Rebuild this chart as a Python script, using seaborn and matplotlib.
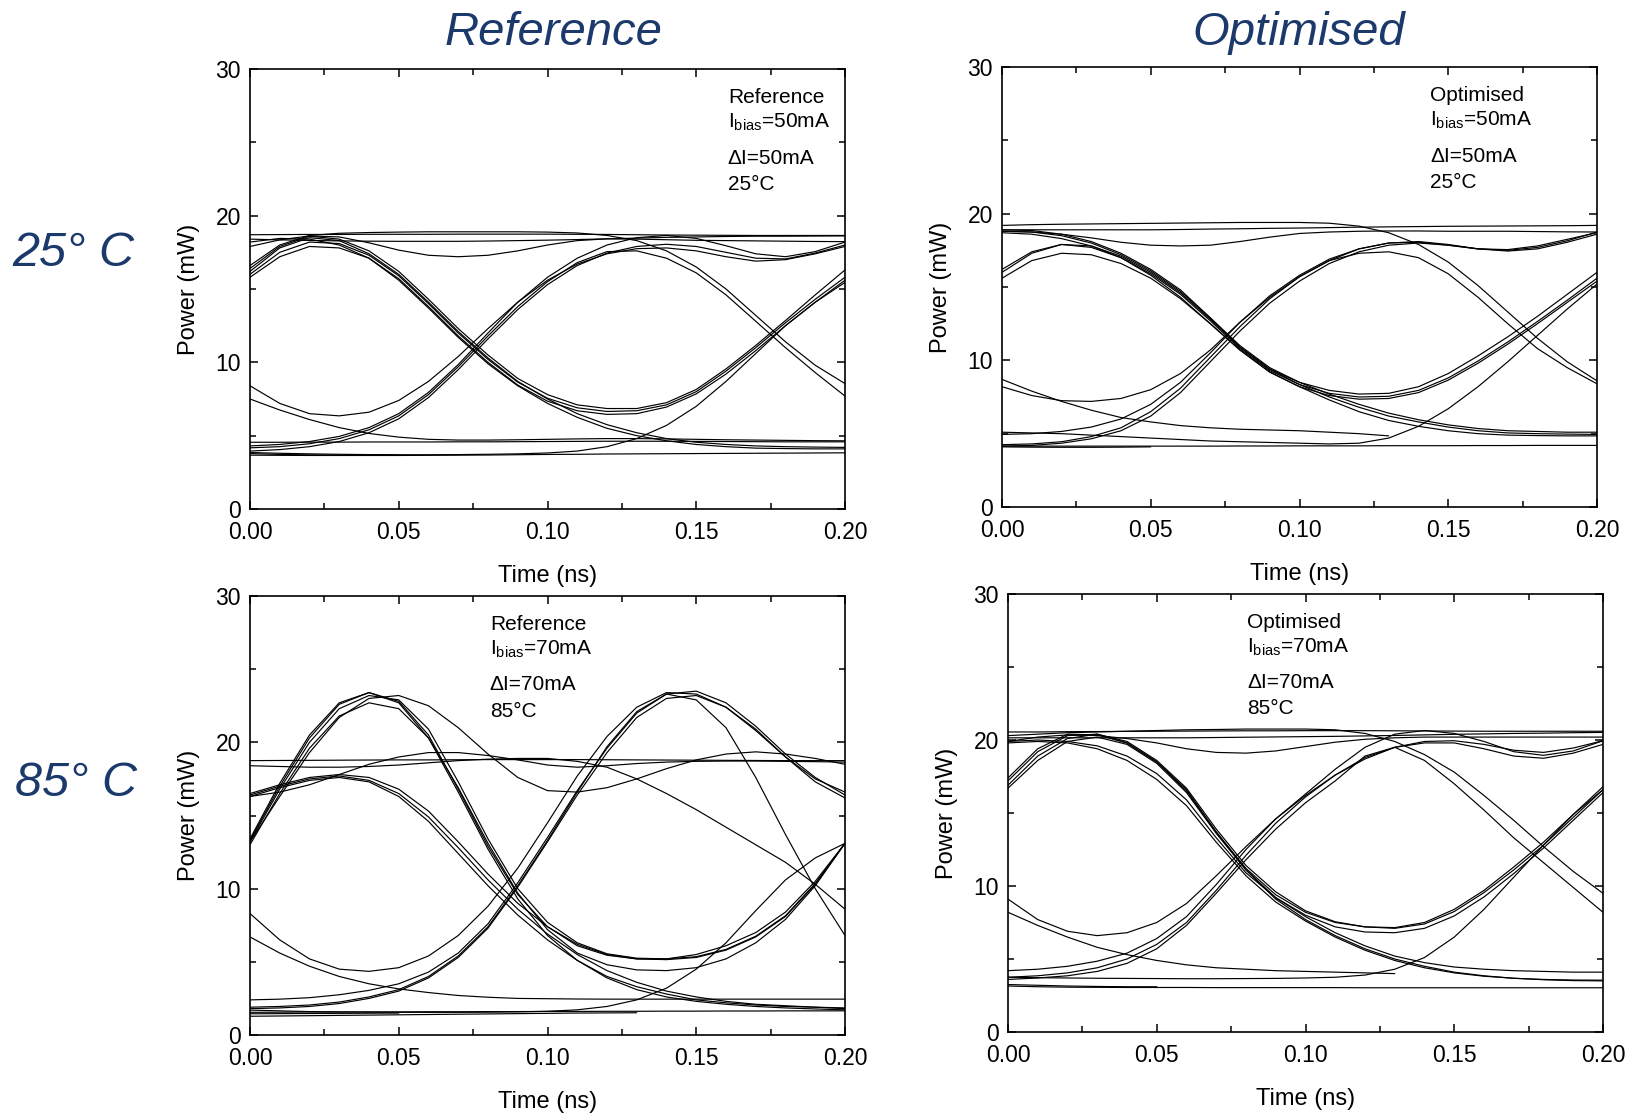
import matplotlib
matplotlib.use("Agg")
import matplotlib.pyplot as plt
from matplotlib.ticker import MultipleLocator, FormatStrFormatter
import pandas as pd
import seaborn as sns

# Sampling instants of every eye trace (ns)
TIME_NS = [0.00, 0.01, 0.02, 0.03, 0.04, 0.05, 0.06, 0.07, 0.08, 0.09, 0.10,
           0.11, 0.12, 0.13, 0.14, 0.15, 0.16, 0.17, 0.18, 0.19, 0.20]

# Reference laser, 25 C, Ibias = 50 mA, dI = 50 mA  (power in mW)
REF_25C = [
    [18.70, 18.71, 18.72, 18.72, 18.73, 18.73, 18.73, 18.74, 18.74, 18.74, 18.74, 18.73, 18.72, 18.70, 18.68, 18.67, 18.66, 18.65, 18.65, 18.65, 18.65],
    [18.40, 18.35, 18.31, 18.28, 18.26, 18.25, 18.25, 18.25, 18.27, 18.30, 18.33, 18.37, 18.42, 18.47, 18.52, 18.55, 18.58, 18.60, 18.60, 18.61, 18.62],
    [17.90, 18.35, 18.62, 18.55, 18.15, 17.65, 17.30, 17.20, 17.30, 17.60, 18.00, 18.30, 18.42, 18.40, 18.36, 18.32, 18.30, 18.28, 18.26, 18.24, 18.23],
    [16.60, 18.00, 18.65, 18.80, 18.85, 18.88, 18.90, 18.90, 18.90, 18.90, 18.88, 18.82, 18.65, 18.30, 17.60, 16.50, 15.00, 13.20, 11.40, 9.80, 8.55],
    [16.40, 17.90, 18.60, 18.40, 17.60, 16.20, 14.30, 12.30, 10.50, 8.90, 7.80, 7.10, 6.85, 6.85, 7.25, 8.15, 9.55, 11.15, 12.85, 14.60, 16.30],
    [16.00, 17.50, 18.20, 18.10, 17.30, 15.90, 14.00, 12.00, 10.20, 8.65, 7.55, 6.90, 6.65, 6.70, 7.10, 8.00, 9.40, 11.00, 12.70, 14.30, 15.80],
    [15.80, 17.20, 17.90, 17.80, 17.10, 15.70, 13.80, 11.80, 10.00, 8.45, 7.35, 6.70, 6.45, 6.50, 6.95, 7.85, 9.20, 10.80, 12.50, 14.10, 15.60],
    [16.20, 17.80, 18.50, 18.30, 17.40, 16.00, 14.10, 12.10, 10.30, 8.70, 7.50, 6.50, 5.75, 5.20, 4.80, 4.55, 4.40, 4.30, 4.25, 4.22, 4.20],
    [18.20, 18.45, 18.40, 18.00, 17.10, 15.60, 13.70, 11.70, 9.90, 8.40, 7.20, 6.25, 5.50, 5.00, 4.65, 4.40, 4.25, 4.15, 4.12, 4.10, 4.10],
    [8.40, 7.20, 6.50, 6.35, 6.60, 7.40, 8.70, 10.40, 12.30, 14.10, 15.60, 16.70, 17.40, 17.75, 17.80, 17.60, 17.20, 16.90, 17.00, 17.40, 17.90],
    [4.30, 4.40, 4.60, 4.95, 5.55, 6.50, 7.95, 9.85, 12.00, 14.10, 15.80, 17.10, 18.00, 18.50, 18.65, 18.45, 17.95, 17.40, 17.20, 17.55, 18.20],
    [4.17, 4.25, 4.45, 4.80, 5.40, 6.35, 7.80, 9.70, 11.80, 13.80, 15.50, 16.80, 17.55, 17.60, 17.10, 16.10, 14.60, 12.80, 11.00, 9.30, 7.70],
    [3.95, 4.05, 4.25, 4.60, 5.20, 6.15, 7.60, 9.50, 11.60, 13.60, 15.30, 16.60, 17.45, 17.90, 18.05, 17.90, 17.50, 17.10, 17.05, 17.45, 18.00],
    [3.85, 3.80, 3.76, 3.73, 3.71, 3.70, 3.70, 3.71, 3.73, 3.76, 3.82, 3.95, 4.25, 4.80, 5.70, 7.00, 8.70, 10.60, 12.50, 14.10, 15.45],
    [4.55, 4.55, 4.56, 4.56, 4.57, 4.57, 4.57, 4.58, 4.58, 4.59, 4.60, 4.61, 4.62, 4.62, 4.62, 4.61, 4.60, 4.59, 4.58, 4.58, 4.58],
    [7.50, 6.75, 6.10, 5.55, 5.15, 4.90, 4.75, 4.70, 4.70, 4.72, 4.75, 4.78, 4.80, 4.80, 4.78, 4.75, 4.72, 4.70, 4.68, 4.66, 4.65],
    [3.67, 3.66, 3.65, 3.65, 3.65, 3.65, 3.66, 3.67, 3.68, 3.70, 3.72, 3.73, 3.75, 3.76, 3.77, 3.78, 3.79, 3.80, 3.81, 3.82, 3.83],
    [3.78, 3.72, 3.69, 3.67, 3.67, 3.67],
]

# Optimised laser, 25 C, Ibias = 50 mA, dI = 50 mA
OPT_25C = [
    [19.20, 19.25, 19.28, 19.30, 19.32, 19.34, 19.36, 19.38, 19.40, 19.40, 19.40, 19.35, 19.15, 18.70, 17.90, 16.70, 15.10, 13.30, 11.50, 9.90, 8.60],
    [18.90, 18.90, 18.90, 18.90, 18.90, 18.90, 18.92, 18.95, 18.97, 19.00, 19.02, 19.05, 19.08, 19.10, 19.12, 19.14, 19.15, 19.16, 19.17, 19.18, 19.20],
    [18.80, 18.75, 18.60, 18.35, 18.05, 17.85, 17.80, 17.85, 18.10, 18.40, 18.65, 18.75, 18.80, 18.82, 18.82, 18.80, 18.80, 18.80, 18.78, 18.76, 18.75],
    [18.90, 18.85, 18.60, 18.10, 17.30, 16.20, 14.80, 12.90, 10.90, 9.40, 8.50, 7.95, 7.70, 7.75, 8.20, 9.10, 10.30, 11.60, 13.00, 14.50, 16.00],
    [16.20, 17.40, 17.90, 17.70, 17.00, 15.90, 14.50, 12.70, 10.80, 9.30, 8.35, 7.75, 7.50, 7.55, 7.95, 8.80, 9.95, 11.25, 12.65, 14.10, 15.60],
    [15.60, 16.80, 17.30, 17.20, 16.60, 15.60, 14.20, 12.50, 10.70, 9.20, 8.20, 7.60, 7.35, 7.40, 7.80, 8.65, 9.80, 11.10, 12.50, 13.95, 15.40],
    [18.80, 18.75, 18.50, 18.00, 17.20, 16.10, 14.70, 12.90, 11.00, 9.50, 8.50, 7.70, 7.00, 6.40, 5.95, 5.60, 5.35, 5.20, 5.15, 5.10, 5.10],
    [16.00, 17.30, 17.90, 17.80, 17.10, 16.00, 14.60, 12.80, 10.90, 9.40, 8.35, 7.50, 6.80, 6.20, 5.80, 5.45, 5.20, 5.05, 5.00, 4.97, 4.95],
    [18.70, 18.60, 18.30, 17.80, 17.00, 15.80, 14.30, 12.50, 10.70, 9.20, 8.20, 7.30, 6.50, 5.90, 5.50, 5.20, 5.00, 4.90, 4.87, 4.85, 4.85],
    [8.20, 7.60, 7.25, 7.20, 7.40, 8.00, 9.10, 10.70, 12.60, 14.30, 15.70, 16.80, 17.60, 18.00, 18.05, 17.85, 17.60, 17.55, 17.80, 18.25, 18.70],
    [4.95, 5.00, 5.15, 5.45, 6.00, 7.00, 8.50, 10.50, 12.60, 14.40, 15.80, 16.90, 17.60, 18.00, 18.10, 17.90, 17.60, 17.45, 17.60, 18.05, 18.60],
    [4.25, 4.30, 4.45, 4.80, 5.40, 6.50, 8.10, 10.20, 12.30, 14.20, 15.70, 16.80, 17.30, 17.40, 17.00, 15.90, 14.30, 12.50, 10.80, 9.50, 8.40],
    [4.15, 4.20, 4.35, 4.65, 5.20, 6.20, 7.80, 9.90, 12.00, 13.90, 15.40, 16.60, 17.40, 17.85, 18.00, 17.85, 17.60, 17.50, 17.70, 18.15, 18.75],
    [8.70, 7.90, 7.20, 6.60, 6.10, 5.80, 5.55, 5.40, 5.30, 5.25, 5.20, 5.10, 5.00, 4.85],
    [5.10, 5.05, 5.00, 4.90, 4.80, 4.70, 4.60, 4.50, 4.45, 4.40, 4.35, 4.30, 4.35, 4.70, 5.50, 6.70, 8.20, 9.90, 11.70, 13.50, 15.20],
    [4.15, 4.15, 4.15, 4.15, 4.15, 4.15, 4.15, 4.15, 4.16, 4.16, 4.17, 4.17, 4.17, 4.18, 4.18, 4.18, 4.19, 4.19, 4.20, 4.20, 4.20],
    [4.10, 4.08, 4.07, 4.07, 4.08, 4.10],
]

# Reference laser, 85 C, Ibias = 70 mA, dI = 70 mA
REF_85C = [
    [13.30, 17.00, 20.30, 22.60, 23.40, 22.80, 20.50, 16.80, 12.90, 9.60, 7.40, 6.10, 5.45, 5.20, 5.15, 5.30, 5.80, 6.70, 8.10, 10.30, 13.10],
    [13.20, 16.80, 20.00, 22.30, 23.20, 22.90, 20.90, 17.30, 13.40, 10.00, 7.70, 6.30, 5.55, 5.25, 5.20, 5.35, 5.85, 6.75, 8.15, 10.35, 13.10],
    [13.00, 16.50, 19.60, 21.80, 22.70, 22.30, 20.30, 16.90, 13.10, 9.70, 7.20, 5.60, 4.80, 4.45, 4.40, 4.60, 5.20, 6.30, 7.90, 10.20, 13.10],
    [13.40, 17.20, 20.50, 22.70, 23.40, 22.70, 20.30, 16.60, 12.70, 9.30, 6.80, 5.10, 3.90, 3.10, 2.60, 2.30, 2.10, 1.95, 1.85, 1.78, 1.72],
    [13.20, 16.30, 19.30, 21.70, 23.00, 23.20, 22.50, 21.00, 19.20, 17.60, 16.70, 16.60, 16.90, 17.50, 18.20, 18.80, 19.20, 19.35, 19.20, 18.90, 18.50],
    [16.30, 16.60, 17.10, 17.80, 18.50, 19.00, 19.30, 19.30, 19.10, 18.80, 18.45, 18.30, 18.40, 18.55, 18.65, 18.70, 18.72, 18.72, 18.70, 18.68, 18.65],
    [18.40, 18.35, 18.30, 18.30, 18.35, 18.45, 18.60, 18.75, 18.85, 18.90, 18.90, 18.70, 18.30, 17.50, 16.50, 15.40, 14.20, 13.00, 11.80, 10.30, 8.60],
    [18.75, 18.76, 18.77, 18.78, 18.79, 18.80, 18.80, 18.81, 18.82, 18.82, 18.82, 18.82, 18.81, 18.80, 18.79, 18.78, 18.77, 18.76, 18.75, 18.75, 18.75],
    [16.50, 17.10, 17.60, 17.80, 17.60, 16.80, 15.30, 13.20, 11.00, 9.00, 7.40, 6.20, 5.50, 5.20, 5.20, 5.50, 6.10, 7.00, 8.40, 10.50, 13.10],
    [16.40, 17.00, 17.50, 17.70, 17.40, 16.50, 14.90, 12.80, 10.60, 8.60, 6.90, 5.50, 4.40, 3.60, 3.00, 2.60, 2.30, 2.10, 2.00, 1.90, 1.85],
    [16.30, 16.90, 17.40, 17.60, 17.30, 16.30, 14.60, 12.40, 10.20, 8.20, 6.50, 5.10, 4.00, 3.30, 2.80, 2.40, 2.20, 2.05, 1.95, 1.90, 1.80],
    [8.30, 6.50, 5.20, 4.50, 4.35, 4.60, 5.40, 6.80, 8.80, 11.40, 14.50, 17.70, 20.40, 22.40, 23.40, 23.30, 22.40, 20.80, 19.00, 17.50, 16.60],
    [2.40, 2.45, 2.55, 2.75, 3.05, 3.50, 4.30, 5.60, 7.60, 10.40, 13.50, 16.70, 19.60, 22.00, 23.30, 23.50, 22.70, 21.10, 19.20, 17.60, 16.40],
    [1.90, 1.95, 2.05, 2.25, 2.60, 3.10, 4.00, 5.40, 7.40, 10.20, 13.30, 16.60, 19.70, 22.10, 23.30, 22.90, 21.00, 17.60, 13.70, 10.00, 6.80],
    [1.80, 1.85, 1.95, 2.15, 2.50, 3.00, 3.90, 5.30, 7.30, 10.10, 13.20, 16.40, 19.30, 21.70, 23.00, 23.20, 22.40, 20.90, 19.00, 17.30, 16.20],
    [6.70, 5.60, 4.70, 4.00, 3.50, 3.15, 2.90, 2.70, 2.58, 2.50, 2.48, 2.46, 2.45, 2.45, 2.45, 2.45, 2.45, 2.45, 2.45, 2.45, 2.45],
    [1.28, 1.30, 1.32, 1.34, 1.36, 1.38, 1.40, 1.42, 1.44, 1.46, 1.48, 1.50, 1.51, 1.52],
    [1.70, 1.65, 1.60, 1.58, 1.56, 1.55, 1.55, 1.55, 1.56, 1.58, 1.62, 1.72, 1.95, 2.40, 3.20, 4.50, 6.30, 8.50, 10.60, 12.10, 13.10],
    [1.55, 1.56, 1.57, 1.57, 1.58, 1.58, 1.59, 1.59, 1.60, 1.60, 1.61, 1.61, 1.62, 1.62, 1.63, 1.63, 1.64, 1.64, 1.65, 1.65, 1.65],
    [1.45, 1.46, 1.47, 1.48, 1.49, 1.50],
]

# Optimised laser, 85 C, Ibias = 70 mA, dI = 70 mA
OPT_85C = [
    [20.55, 20.55, 20.57, 20.58, 20.59, 20.60, 20.61, 20.62, 20.63, 20.63, 20.64, 20.64, 20.64, 20.63, 20.62, 20.61, 20.60, 20.60, 20.60, 20.60, 20.60],
    [20.15, 20.15, 20.15, 20.15, 20.15, 20.15, 20.15, 20.17, 20.19, 20.21, 20.23, 20.25, 20.28, 20.31, 20.35, 20.39, 20.42, 20.45, 20.47, 20.50, 20.52],
    [19.90, 20.20, 20.35, 20.30, 20.10, 19.80, 19.40, 19.15, 19.10, 19.25, 19.55, 19.85, 20.05, 20.15, 20.20, 20.20, 20.20, 20.20, 20.20, 20.20, 20.20],
    [20.30, 20.40, 20.50, 20.55, 20.60, 20.65, 20.70, 20.72, 20.75, 20.75, 20.75, 20.70, 20.45, 19.90, 19.00, 17.80, 16.20, 14.50, 12.70, 11.00, 9.50],
    [3.60, 3.70, 3.85, 4.15, 4.70, 5.70, 7.30, 9.50, 11.80, 13.90, 15.70, 17.20, 18.90, 19.50, 18.60, 17.00, 15.20, 13.30, 11.60, 9.90, 8.20],
    [17.40, 19.40, 20.40, 20.35, 19.80, 18.50, 16.60, 13.70, 11.20, 9.40, 8.20, 7.50, 7.20, 7.15, 7.50, 8.40, 9.70, 11.30, 13.00, 14.90, 16.80],
    [16.90, 18.90, 20.10, 20.40, 19.90, 18.60, 16.70, 13.90, 11.40, 9.60, 8.30, 7.55, 7.20, 7.10, 7.40, 8.25, 9.55, 11.10, 12.80, 14.70, 16.60],
    [19.90, 20.00, 19.90, 19.60, 18.90, 17.70, 15.90, 13.30, 10.90, 9.20, 8.00, 7.20, 6.85, 6.80, 7.10, 7.95, 9.25, 10.85, 12.60, 14.50, 16.40],
    [17.20, 19.20, 20.30, 20.40, 19.80, 18.50, 16.50, 13.70, 11.10, 9.20, 7.90, 6.80, 5.90, 5.20, 4.75, 4.45, 4.30, 4.20, 4.15, 4.10, 4.10],
    [19.80, 19.90, 19.80, 19.40, 18.60, 17.30, 15.50, 13.00, 10.70, 8.90, 7.60, 6.50, 5.60, 4.90, 4.40, 4.05, 3.82, 3.68, 3.60, 3.56, 3.55],
    [16.70, 18.60, 19.90, 20.20, 19.70, 18.40, 16.40, 13.60, 11.10, 9.10, 7.70, 6.60, 5.70, 5.00, 4.50, 4.10, 3.85, 3.68, 3.58, 3.52, 3.50],
    [9.10, 7.70, 6.90, 6.60, 6.80, 7.50, 8.80, 10.70, 12.70, 14.60, 16.20, 17.60, 18.70, 19.50, 19.90, 19.95, 19.70, 19.30, 19.15, 19.45, 19.95],
    [4.20, 4.30, 4.50, 4.85, 5.40, 6.40, 7.90, 10.10, 12.50, 14.60, 16.30, 18.00, 19.50, 20.40, 20.65, 20.45, 19.90, 19.20, 18.95, 19.25, 19.95],
    [3.75, 3.85, 4.05, 4.40, 5.00, 6.00, 7.50, 9.70, 12.10, 14.30, 16.10, 17.60, 18.80, 19.50, 19.80, 19.80, 19.40, 18.90, 18.75, 19.10, 19.70],
    [8.20, 7.30, 6.50, 5.80, 5.30, 4.90, 4.60, 4.40, 4.30, 4.20, 4.15, 4.10, 4.05, 4.00],
    [3.75, 3.72, 3.70, 3.68, 3.67, 3.66, 3.65, 3.65, 3.66, 3.67, 3.70, 3.75, 3.90, 4.30, 5.10, 6.50, 8.40, 10.60, 12.80, 14.90, 16.60],
    [3.15, 3.10, 3.07, 3.06, 3.05, 3.05, 3.05, 3.04, 3.04, 3.04, 3.04, 3.04, 3.03, 3.03, 3.03, 3.03, 3.03, 3.03, 3.03, 3.03, 3.03],
    [3.25, 3.20, 3.15, 3.12, 3.10, 3.10],
]

X_TICKS = [0.00, 0.05, 0.10, 0.15, 0.20]
Y_TICKS = [0, 10, 20, 30]
COLUMN_TITLES = ["Reference", "Optimised"]
ROW_TITLES = ["25° C", "85° C"]

NAVY = "#1b3a6b"

sns.set_style("ticks", {"axes.edgecolor": "black", "xtick.color": "black",
                        "ytick.color": "black", "text.color": "black",
                        "axes.labelcolor": "black"})
plt.rcParams["font.family"] = ["Liberation Sans", "DejaVu Sans"]
plt.rcParams["mathtext.fontset"] = "custom"
plt.rcParams["mathtext.rm"] = "Liberation Sans"
plt.rcParams["mathtext.it"] = "Liberation Sans:italic"


def to_long(traces):
    rows = []
    for k, trace in enumerate(traces):
        for t, p in zip(TIME_NS, trace):
            rows.append((k, t, p))
    return pd.DataFrame(rows, columns=["trace", "time", "power"])


fig = plt.figure(figsize=(16.35, 11.13), dpi=100)
W, H = 1635.0, 1113.0

panels = [
    # (left, top, right, bottom) in pixels, data, annotation, annotation x
    ((250, 69, 845, 509), REF_25C, ("Reference", "50", "25"), 0.803),
    ((1002, 67, 1597, 507), OPT_25C, ("Optimised", "50", "25"), 0.720),
    ((250, 596, 845, 1035), REF_85C, ("Reference", "70", "85"), 0.403),
    ((1008, 594, 1603, 1032), OPT_85C, ("Optimised", "70", "85"), 0.402),
]

for (l, t, r, b), traces, (name, cur, temp), tx in panels:
    ax = fig.add_axes([l / W, 1 - b / H, (r - l) / W, (b - t) / H])
    sns.lineplot(data=to_long(traces), x="time", y="power", units="trace",
                 estimator=None, color="black", lw=0.85, ax=ax)
    ax.set_xlim(0, 0.2)
    ax.set_ylim(0, 30)
    ax.set_xticks(X_TICKS)
    ax.set_yticks(Y_TICKS)
    ax.xaxis.set_major_formatter(FormatStrFormatter("%.2f"))
    ax.xaxis.set_minor_locator(MultipleLocator(0.025))
    ax.yaxis.set_minor_locator(MultipleLocator(5))
    ax.tick_params(which="both", direction="in", top=True, right=True,
                   width=1.1, colors="black")
    ax.tick_params(which="major", length=6, labelsize=16.5)
    ax.tick_params(axis="x", which="major", pad=8.5)
    ax.tick_params(axis="y", which="major", pad=6.5)
    ax.tick_params(which="minor", length=4)
    for sp in ax.spines.values():
        sp.set_linewidth(1.2)
        sp.set_color("black")
    ax.set_xlabel("Time (ns)", fontsize=17, labelpad=15.5)
    ax.set_ylabel("Power (mW)", fontsize=17, labelpad=11)

    fs = 15
    ax.text(tx, 0.923, name, transform=ax.transAxes, fontsize=fs, va="baseline")
    ax.text(tx, 0.866, r"I$_{\mathrm{bias}}$=" + cur + "mA", transform=ax.transAxes,
            fontsize=fs, va="baseline")
    ax.text(tx, 0.785, "\u0394I=" + cur + "mA", transform=ax.transAxes,
            fontsize=fs, va="baseline")
    ax.text(tx, 0.725, temp + "°C", transform=ax.transAxes, fontsize=fs,
            va="baseline")

fig.text(553 / W, 1 - 33 / H, COLUMN_TITLES[0], fontsize=34, style="italic",
         color=NAVY, ha="center", va="center")
fig.text(1299 / W, 1 - 33 / H, COLUMN_TITLES[1], fontsize=34, style="italic",
         color=NAVY, ha="center", va="center")
fig.text(73 / W, 1 - 253 / H, ROW_TITLES[0], fontsize=35, style="italic",
         color=NAVY, ha="center", va="center")
fig.text(76 / W, 1 - 784 / H, ROW_TITLES[1], fontsize=35, style="italic",
         color=NAVY, ha="center", va="center")

fig.savefig("out.png", dpi=100)
